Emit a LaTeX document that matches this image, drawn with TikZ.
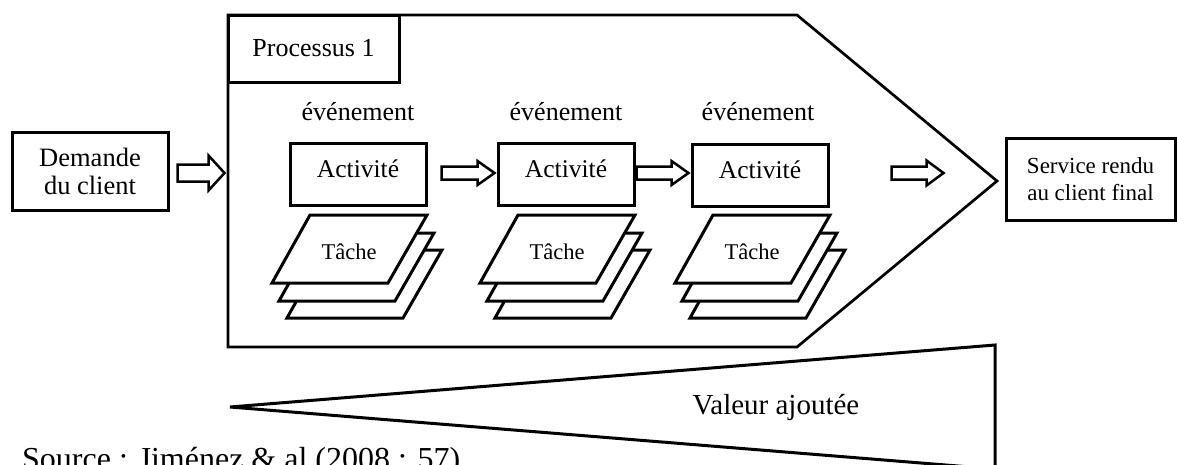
\documentclass[tikz,border=0pt]{standalone}
\usepackage{fontspec}
\setmainfont{Liberation Serif}
\usetikzlibrary{calc}
\tikzset{
  box/.style={draw, line width=3pt, fill=white, inner sep=0pt, align=center},
  outline/.style={draw, line width=2.7pt, line join=miter},
  layer/.style={draw, line width=3pt, fill=white, line join=miter},
  harrow/.style={draw, line width=2.5pt, fill=white, line join=miter},
  evt/.style={inner sep=0pt, anchor=base, font=\fontsize{26}{30}\selectfont},
  act/.style={box, minimum width=136pt, minimum height=62pt, text height=17pt, text depth=11pt, font=\fontsize{25.5}{29}\selectfont},
  tache/.style={inner sep=0pt, font=\fontsize{22.5}{26}\selectfont},
}
% start, length, shaft half-height, head half-height, head length
\newcommand\hollowarrow[5]{%
  \draw[harrow] #1 ++(0,-#3) -- ++({#2-#5},0) -- ++(0,{#3-#4}) -- ++(#5,#4)
     -- ++(-#5,#4) -- ++(0,{#3-#4}) -- ++({#5-#2},0) -- cycle;}
% name, x of bottom-left corner
\newcommand\taskstack[2]{%
  \foreach \ox/\oy in {15/35, 7/18, 0/0}{
    \draw[layer] ({#2+\ox},{283+\oy}) -- ({#2+116+\ox},{283+\oy})
      -- ({#2+155+\ox},{215+\oy}) -- ({#2+38+\ox},{215+\oy}) -- cycle;
  }
  \node[tache] (#1) at ({#2+77},252) {Tâche};}
\begin{document}
\begin{tikzpicture}[x=1pt, y=-1pt]
\useasboundingbox (0,0) rectangle (1177,464);
\fill[white] (0,0) rectangle (1177,464);
\clip (0,0) rectangle (1177,464);

% process pentagon
\draw[outline] (228,15) -- (797,15) -- (997,181) -- (797,347) -- (228,347) -- cycle;
\node[box, minimum width=171pt, minimum height=67pt, font=\fontsize{26}{30}\selectfont] (proc) at (313.5,48.5) {Processus 1};

% client request and final service
\node[box, minimum width=156pt, minimum height=78pt, font=\fontsize{26.5}{28}\selectfont] (dem) at (90,171) {Demande\\du client};
\node[box, minimum width=169pt, minimum height=82pt, font=\fontsize{23}{27}\selectfont] (serv) at (1090.5,179) {Service rendu\\au client final};

% events
\node[evt] (ev1) at (358,120) {événement};
\node[evt] (ev2) at (566,120) {événement};
\node[evt] (ev3) at (758,120) {événement};

% activities
\node[act] (act1) at (358,174) {Activité};
\node[act] (act2) at (566,174) {Activité};
\node[act] (act3) at (760,175) {Activité};

% task stacks
\taskstack{t1}{272}
\taskstack{t2}{480}
\taskstack{t3}{675}

% hollow arrows
\hollowarrow{($(dem.east)+(8,2)$)}{47}{8.5}{17.5}{16}
\hollowarrow{($(act2.west)+(-55,-1)$)}{53}{6.5}{12}{17}
\hollowarrow{($(act3.west)+(-54,-2)$)}{52}{6.5}{12}{17}
\hollowarrow{($(act3.east)+(62,-2)$)}{52}{6.5}{12.5}{17}

% added value wedge
\draw[outline, line width=3pt] (995,345) -- (230,407) -- (995,469) -- cycle;
\node[inner sep=0pt, anchor=base, font=\fontsize{29}{33}\selectfont] (val) at (776,414) {Valeur ajoutée};

% source
\node[inner sep=0pt, anchor=base west, font=\fontsize{32}{36}\selectfont] (src) at (22,469) {Source : Jiménez \& al (2008 : 57)};
\end{tikzpicture}
\end{document}
